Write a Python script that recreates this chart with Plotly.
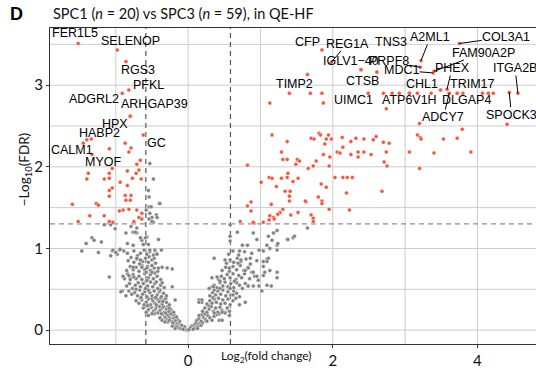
import plotly.graph_objects as go

# ---- data: log2 fold change and -log10(FDR) per protein ----
# non-significant proteins (grey)
grey_lfc = [
    # left arm
    -0.02, -0.04, -0.06, -0.08, -0.10, -0.12, -0.05, -0.09, -0.13, -0.15, -0.17, -0.11, -0.03, -0.07, -0.14, -0.19, -0.21, -0.16, -0.18, -0.22, -0.01,
    -0.12, -0.15, -0.18, -0.20, -0.23, -0.25, -0.27, -0.19, -0.22, -0.30, -0.28, -0.32, -0.35, -0.16, -0.26, -0.33, -0.38, -0.24, -0.29, -0.36,
    -0.20, -0.24, -0.27, -0.30, -0.33, -0.36, -0.39, -0.42, -0.45, -0.28, -0.34, -0.40, -0.48, -0.51, -0.55, -0.31, -0.37, -0.44, -0.58, -0.62, -0.26, -0.47,
    -0.26, -0.30, -0.33, -0.36, -0.40, -0.43, -0.46, -0.49, -0.52, -0.55, -0.58, -0.61, -0.64, -0.68, -0.38, -0.31, -0.44, -0.50, -0.56, -0.72, -0.35, -0.66,
    -0.30, -0.34, -0.37, -0.40, -0.43, -0.47, -0.50, -0.53, -0.57, -0.60, -0.63, -0.67, -0.70, -0.74, -0.78, -0.82, -0.45, -0.55, -0.39, -0.65, -0.86, -0.91,
    -0.33, -0.38, -0.42, -0.46, -0.49, -0.52, -0.56, -0.59, -0.62, -0.66, -0.69, -0.73, -0.77, -0.81, -0.85, -0.44, -0.36, -0.58, -0.72,
    -0.38, -0.43, -0.48, -0.52, -0.55, -0.60, -0.64, -0.68, -0.72, -0.76, -0.80, -0.84, -0.88, -0.46, -0.57, -1.09,
    -0.42, -0.47, -0.52, -0.56, -0.60, -0.64, -0.68, -0.72, -0.76, -0.80, -0.85, -0.58, -0.50, -0.22,
    -0.45, -0.50, -0.55, -0.59, -0.63, -0.67, -0.71, -0.75, -0.79, -0.54, -0.47, -0.83,
    -0.48, -0.53, -0.57, -0.61, -0.66, -0.70, -0.75, -0.44,
    -1.47, -1.41, -1.33, -1.30, -1.20, -1.24, -1.01, -1.05, -0.98, -0.95, -0.89, -0.84, -0.86, -0.79, -0.76, -0.71, -0.71,
    -0.58, -0.54, -0.50, -0.48, -0.40, -0.64, -0.57, -1.16, -1.07, -1.07, -1.04, -1.00, -0.94, -0.84, -0.73, -0.76, -0.66,
    -0.62, -0.59, -0.55, -0.53, -0.54, -0.50, -0.41, -0.46, -0.37, -0.43, -0.93, -0.90, -0.82, -0.80, -0.75, -0.71, -0.66,
    -0.76, -0.64, -0.57, -0.50, -0.41, -0.36, -0.29, -0.22, -0.18, -0.55, -0.50, -0.39, -0.32, -0.21,
    -0.53, -0.48, -0.55, -0.54, -0.51, -0.53, -0.44, -0.43, -0.39,
    # right arm
    0.02, 0.04, 0.06, 0.08, 0.10, 0.12, 0.05, 0.09, 0.14, 0.16, 0.11, 0.03, 0.07, 0.13, 0.18, 0.20, 0.01,
    0.12, 0.15, 0.18, 0.21, 0.24, 0.27, 0.30, 0.19, 0.23, 0.33, 0.15, 0.26, 0.36, 0.40, 0.43,
    0.20, 0.23, 0.26, 0.29, 0.32, 0.35, 0.38, 0.41, 0.44, 0.47, 0.51, 0.28, 0.36, 0.54, 0.57,
    0.26, 0.30, 0.33, 0.36, 0.39, 0.42, 0.45, 0.48, 0.51, 0.55, 0.58, 0.62, 0.34, 0.15, 0.19, 0.66,
    0.30, 0.34, 0.38, 0.41, 0.45, 0.48, 0.52, 0.55, 0.59, 0.63, 0.67, 0.71, 0.36, 0.29, 0.33,
    0.36, 0.40, 0.44, 0.48, 0.51, 0.55, 0.59, 0.63, 0.67, 0.71, 0.75, 0.79, 0.44, 0.83,
    0.42, 0.46, 0.50, 0.54, 0.58, 0.62, 0.66, 0.70, 0.74, 0.78, 0.85, 0.92, 0.97,
    0.47, 0.52, 0.57, 0.62, 0.67, 0.72, 0.77, 0.83, 0.88, 1.04, 1.13,
    0.53, 0.58, 0.63, 0.68, 0.73, 0.80, 0.86, 0.95, 1.09,
    0.56, 0.62, 0.70, 0.78, 0.88, 0.99,
    0.58, 0.58, 0.58, 0.68, 0.75, 0.82, 0.71, 0.90, 0.95, 1.11, 1.23, 1.16, 1.09, 1.23, 1.37, 1.45, 1.47,
    0.98, 1.04, 1.13, 1.23, 1.11, 1.09, 1.04, 0.86, 0.36, 0.51, 0.57, 0.69, 0.73, 0.79, 0.83, 0.90, 0.95,
    1.04, 1.06, 1.23, 1.23, 1.09, 1.15, 1.02, 0.90, 0.98, 0.83, 0.64, 0.58, 0.44, 0.40, 0.33, 0.29, 0.35,
    0.19, 0.15, 0.43, 0.47, 0.57, 0.51, 0.47, 0.71, 0.79, 0.62, 1.65, 1.24, 1.18, 1.38,
]
grey_logfdr = [
    0.01, 0.02, 0.02, 0.03, 0.04, 0.05, 0.04, 0.06, 0.08, 0.07, 0.09, 0.02, 0.00, 0.01, 0.03, 0.06, 0.08, 0.04, 0.02, 0.05, 0.005,
    0.11, 0.13, 0.12, 0.15, 0.11, 0.14, 0.17, 0.18, 0.19, 0.13, 0.10, 0.16, 0.19, 0.16, 0.12, 0.11, 0.14, 0.20, 0.19, 0.12,
    0.22, 0.25, 0.23, 0.26, 0.22, 0.27, 0.24, 0.21, 0.26, 0.29, 0.29, 0.29, 0.23, 0.28, 0.25, 0.21, 0.20, 0.29, 0.22, 0.27, 0.27, 0.20,
    0.31, 0.34, 0.37, 0.32, 0.35, 0.38, 0.33, 0.36, 0.31, 0.38, 0.34, 0.31, 0.37, 0.33, 0.39, 0.39, 0.31, 0.39, 0.30, 0.36, 0.35, 0.39,
    0.42, 0.45, 0.41, 0.47, 0.43, 0.48, 0.42, 0.46, 0.41, 0.47, 0.44, 0.49, 0.42, 0.46, 0.44, 0.48, 0.40, 0.49, 0.49, 0.40, 0.42, 0.48,
    0.52, 0.55, 0.51, 0.57, 0.53, 0.59, 0.54, 0.51, 0.57, 0.53, 0.58, 0.55, 0.51, 0.57, 0.54, 0.59, 0.58, 0.60, 0.50,
    0.62, 0.66, 0.63, 0.68, 0.64, 0.69, 0.62, 0.66, 0.63, 0.68, 0.64, 0.69, 0.63, 0.70, 0.61, 0.65,
    0.72, 0.76, 0.73, 0.78, 0.74, 0.79, 0.72, 0.77, 0.74, 0.78, 0.73, 0.71, 0.79, 0.75,
    0.82, 0.86, 0.83, 0.88, 0.84, 0.81, 0.87, 0.83, 0.89, 0.90, 0.88, 0.85,
    0.92, 0.96, 0.93, 0.98, 0.94, 0.91, 0.97, 0.94,
    0.97, 1.06, 1.13, 1.10, 1.08, 0.95, 1.24, 0.97, 0.93, 0.98, 0.97, 0.94, 1.19, 1.27, 1.20, 1.25, 1.19,
    1.47, 1.51, 1.38, 1.32, 1.55, 1.10, 1.14, 1.29, 1.29, 0.91, 0.98, 0.95, 0.99, 1.06, 1.20, 1.04, 1.13,
    1.05, 1.13, 1.05, 0.98, 1.36, 1.33, 1.11, 0.98, 0.98, 0.93, 0.47, 0.66, 0.67, 0.62, 0.65, 0.88, 0.86,
    0.77, 0.77, 0.76, 0.71, 0.76, 0.77, 0.76, 0.53, 0.37, 0.18, 0.20, 0.15, 0.10, 0.09,
    2.04, 1.85, 1.71, 1.63, 1.51, 1.43, 1.41, 1.38, 1.55,
    0.01, 0.02, 0.02, 0.04, 0.03, 0.06, 0.05, 0.07, 0.05, 0.08, 0.09, 0.03, 0.01, 0.02, 0.06, 0.09, 0.005,
    0.12, 0.14, 0.11, 0.16, 0.13, 0.18, 0.15, 0.19, 0.20, 0.12, 0.18, 0.11, 0.17, 0.19, 0.20,
    0.23, 0.27, 0.22, 0.26, 0.29, 0.23, 0.27, 0.22, 0.28, 0.24, 0.22, 0.30, 0.21, 0.27, 0.23,
    0.32, 0.36, 0.33, 0.38, 0.34, 0.39, 0.32, 0.37, 0.33, 0.38, 0.31, 0.36, 0.40, 0.37, 0.34, 0.39,
    0.42, 0.46, 0.43, 0.48, 0.44, 0.49, 0.42, 0.47, 0.43, 0.48, 0.45, 0.41, 0.49, 0.51, 0.53,
    0.55, 0.52, 0.58, 0.54, 0.59, 0.53, 0.57, 0.52, 0.58, 0.55, 0.51, 0.57, 0.51, 0.54,
    0.62, 0.66, 0.63, 0.68, 0.64, 0.69, 0.62, 0.67, 0.64, 0.69, 0.63, 0.66, 0.61,
    0.73, 0.77, 0.72, 0.78, 0.74, 0.79, 0.73, 0.77, 0.71, 0.78, 0.73,
    0.82, 0.86, 0.83, 0.88, 0.84, 0.87, 0.81, 0.85, 0.87,
    0.93, 0.97, 0.92, 0.96, 0.94, 0.98,
    1.29, 1.15, 1.09, 1.20, 1.04, 1.04, 0.97, 1.19, 1.11, 1.15, 1.22, 1.10, 1.04, 1.04, 1.11, 1.13, 1.15,
    0.98, 0.97, 1.00, 0.98, 0.88, 0.84, 0.84, 0.88, 0.88, 0.86, 0.76, 0.82, 0.86, 0.73, 0.76, 0.71, 0.66,
    0.67, 0.71, 0.71, 0.64, 0.55, 0.54, 0.48, 0.54, 0.54, 0.54, 0.60, 0.51, 0.60, 0.65, 0.64, 0.51, 0.53,
    0.37, 0.34, 0.12, 0.12, 0.18, 0.21, 0.22, 0.31, 0.34, 0.43, 1.25, 1.06, 1.19, 1.11,
]

# significant proteins (red), unlabelled
sig_lfc = [
    -0.87, -1.09, -0.79, -0.82, -0.66, -0.71, -1.05, -1.38, -1.09, -0.84, -0.72, -0.68, -1.40, -1.16, -1.09, -0.77,
    -0.65, -0.94, -0.84, -1.05, -1.09, -1.09, -0.87, -0.79, -0.86, -0.80, -1.60, -1.27, -1.24, -0.82, -0.90, -0.95,
    -0.71, -0.64, -1.36, -1.16, -0.68, -1.52, -1.09, -1.04, -0.75, -0.64, -1.34,
    1.40, 1.69, 1.85, 2.49, 2.70, 2.82, 2.92, 3.06, 3.17, 3.36, 3.49, 3.72, 3.80, 4.07, 4.15, 4.22, 3.61,
    1.13, 1.87, 2.74, 3.20, 3.79, 4.41, 2.39, 2.61,
    1.16, 1.37, 1.70, 1.74, 1.81, 1.83, 1.89, 1.91, 1.94, 1.98, 2.13, 2.14, 2.25, 2.32, 2.43, 2.56, 2.60, 2.70, 2.78,
    3.17, 3.21, 3.22, 3.53, 3.72, 1.29, 1.31, 1.37, 1.51, 1.54, 1.49, 1.77, 1.87, 1.96, 2.06, 2.10, 2.25, 2.35, 2.35,
    2.43, 2.53, 2.74, 3.06, 3.40, 3.91, 2.71, 2.75, 3.20, 1.73, 1.66, 1.95, 0.82, 1.12, 1.16, 1.29, 1.37, 1.45, 1.52,
    1.38, 2.03, 2.14, 2.20, 2.27, 1.01, 1.22, 1.84, 1.91, 1.34, 1.41, 1.80, 2.19, 2.68, 1.40, 1.40, 1.63, 1.85, 1.85,
    0.82, 0.87, 1.15, 0.87, 2.23, 1.27, 1.24, 1.52, 1.42, 1.70, 1.13, 1.18, 1.19, 1.12, 1.73, 1.73, 0.72, 0.91, 1.04,
    0.90, 1.31, 1.95, 1.62,
]
sig_logfdr = [
    2.29, 2.22, 2.23, 2.18, 2.08, 2.03, 1.98, 1.92, 1.92, 1.95, 1.92, 1.96, 1.85, 1.85, 1.86, 1.86,
    1.85, 1.81, 1.77, 1.74, 1.71, 1.64, 1.65, 1.65, 1.59, 1.59, 1.54, 1.55, 1.53, 1.48, 1.47, 1.46,
    1.47, 1.43, 1.40, 1.40, 1.38, 1.33, 1.33, 1.32, 1.33, 1.36, 2.34,
    2.90, 2.90, 2.90, 2.90, 2.90, 2.90, 2.90, 2.90, 2.90, 2.90, 2.94, 2.90, 2.90, 2.90, 2.90, 2.90, 2.90,
    2.78, 2.78, 2.71, 2.53, 2.46, 2.52, 3.19, 3.16,
    2.39, 2.31, 2.35, 2.34, 2.41, 2.39, 2.28, 2.34, 2.39, 2.34, 2.36, 2.24, 2.31, 2.35, 2.34, 2.33, 2.37, 2.30, 2.29,
    2.39, 2.36, 2.34, 2.34, 2.35, 2.18, 2.09, 2.09, 2.09, 2.07, 2.03, 2.07, 2.15, 2.12, 2.18, 2.17, 2.15, 2.12, 2.18,
    2.18, 2.15, 2.18, 2.18, 2.17, 2.18, 2.06, 2.01, 1.98, 2.01, 1.98, 2.01, 2.02, 1.87, 1.86, 1.86, 1.87, 1.82, 1.86,
    1.92, 1.87, 1.87, 1.87, 1.87, 1.81, 1.76, 1.79, 1.75, 1.70, 1.70, 1.63, 1.68, 1.70, 1.64, 1.58, 1.57, 1.58, 1.55,
    1.52, 1.57, 1.54, 1.46, 1.47, 1.44, 1.42, 1.44, 1.41, 1.41, 1.40, 1.38, 1.36, 1.35, 1.37, 1.33, 1.33, 1.31, 1.32,
    1.32, 1.48, 1.48, 1.58,
]

# labelled proteins: point value, label position, whether a leader line is drawn
lab_gene = ["FER1L5", "SELENOP", "RGS3", "PFKL", "ADGRL2", "ARHGAP39", "HPX", "HABP2", "CALM1", "MYOF", "GC",
            "CFP", "REG1A", "TNS3", "A2ML1", "COL3A1", "IGLV1\u221240", "PRPF8", "MDC1", "FAM90A2P", "PHEX",
            "ITGA2B", "TIMP2", "CTSB", "CHL1", "TRIM17", "UIMC1", "ATP6V1H", "DLGAP4", "ADCY7", "SPOCK3"]
lab_lfc = [-1.52, -0.98, -0.86, -0.82, -0.91, -0.80, -0.80, -1.40, -1.45, -1.33, -0.62,
           1.85, 1.98, 2.61, 3.22, 3.75, 2.39, 3.21, 3.39, 3.40, 3.58,
           4.56, 1.65, 2.39, 3.49, 3.72, 1.87, 3.06, 3.61, 3.61, 4.44]
lab_logfdr = [3.51, 3.43, 3.29, 2.94, 2.90, 2.62, 2.62, 2.33, 2.29, 2.15, 2.39,
              3.43, 3.28, 3.16, 3.30, 3.51, 3.19, 3.22, 3.15, 3.17, 2.95,
              2.90, 3.13, 3.19, 2.94, 2.90, 2.78, 2.90, 2.90, 2.90, 2.91]
lab_tx = [-1.56, -0.80, -0.69, -0.55, -1.30, -0.46, -1.01, -1.23, -1.60, -1.18, -0.44,
          1.65, 2.20, 2.81, 3.35, 4.40, 2.25, 2.78, 2.95, 4.09, 3.65,
          4.52, 1.47, 2.41, 3.24, 3.93, 2.28, 3.06, 3.85, 3.53, 4.47]
lab_ty = [3.64, 3.54, 3.18, 3.00, 2.83, 2.77, 2.53, 2.42, 2.20, 2.06, 2.29,
          3.53, 3.51, 3.53, 3.59, 3.59, 3.29, 3.29, 3.18, 3.40, 3.21,
          3.21, 3.02, 3.05, 3.02, 3.02, 2.82, 2.82, 2.82, 2.61, 2.64]
lab_leader = [False, False, False, False, False, False, False, False, False, False, False,
              False, True, False, True, True, False, True, True, True, True,
              True, False, False, False, False, False, False, False, True, True]

fc_cut = 0.585   # log2(1.5)
fdr_cut = 1.301  # -log10(0.05)

x_grid = [-1, 0, 1, 2, 3, 4]
y_grid = [0, 0.5, 1, 1.5, 2, 2.5, 3, 3.5]

RED = "#f2553c"
GREY = "#808080"
GRID = "#cccccc"

x_span = [-1.91, 4.81]
y_span = [-0.17, 3.70]

fig = go.Figure()

# panel grid, as one broken line trace under everything else
gx, gy = [], []
for xv in x_grid:
    gx += [xv, xv, None]
    gy += [y_span[0], y_span[1], None]
for yv in y_grid:
    gx += [x_span[0], x_span[1], None]
    gy += [yv, yv, None]
fig.add_trace(go.Scatter(x=gx, y=gy, mode="lines", hoverinfo="skip",
                         line=dict(color=GRID, width=1)))

# threshold lines
for xv in (-fc_cut, fc_cut):
    fig.add_trace(go.Scatter(x=[xv, xv], y=y_span, mode="lines", hoverinfo="skip",
                             line=dict(color="#555555", width=1.2, dash="5px,4px")))
fig.add_trace(go.Scatter(x=x_span, y=[fdr_cut, fdr_cut], mode="lines", hoverinfo="skip",
                         line=dict(color="#8f8f8f", width=1.2, dash="5px,4px")))

fig.add_trace(go.Scatter(
    x=grey_lfc, y=grey_logfdr, mode="markers", hoverinfo="skip",
    marker=dict(color=GREY, size=4.0, line=dict(color="white", width=0.45)),
))
fig.add_trace(go.Scatter(
    x=sig_lfc + lab_lfc, y=sig_logfdr + lab_logfdr, mode="markers", hoverinfo="skip",
    marker=dict(color=RED, size=4.0, line=dict(color="white", width=0.45)),
))

# gene labels
lab_font = dict(family="Liberation Sans, Arial, sans-serif", size=12.5, color="black")
for g, px, py, tx, ty, ld in zip(lab_gene, lab_lfc, lab_logfdr, lab_tx, lab_ty, lab_leader):
    if ld:
        fig.add_annotation(x=px, y=py, ax=tx, ay=ty, axref="x", ayref="y", text=g,
                           showarrow=True, arrowhead=0, arrowwidth=1, arrowcolor="black",
                           standoff=0, font=lab_font, borderpad=0)
    else:
        fig.add_annotation(x=tx, y=ty, text=g, showarrow=False, font=lab_font, borderpad=0)

# panel letter, title, axis titles
fig.add_annotation(xref="paper", yref="paper", x=-0.086, y=1.045, text="<b>D</b>", showarrow=False,
                   xanchor="left", yanchor="middle",
                   font=dict(family="Liberation Sans, Arial", size=18, color="black"))
fig.add_annotation(xref="paper", yref="paper", x=0.003, y=1.045, showarrow=False,
                   xanchor="left", yanchor="middle",
                   text="SPC1 (<i>n</i> = 20) vs SPC3 (<i>n</i> = 59), in QE-HF",
                   font=dict(family="Lato", size=14.5, color="#111111"))
fig.add_annotation(xref="paper", yref="paper", x=-0.074, y=0.55, showarrow=False, textangle=-90,
                   text="\u2212Log<sub>10</sub>(FDR)",
                   font=dict(family="Lato", size=13.5, color="#111111"))
fig.add_annotation(xref="paper", yref="paper", x=0.446, y=-0.073, showarrow=False,
                   text="Log<sub>2</sub>(fold change)",
                   font=dict(family="Lato", size=12, color="#111111"))

fig.update_layout(
    width=536, height=375,
    margin=dict(l=50, r=0, t=28, b=31),
    paper_bgcolor="white", plot_bgcolor="white",
    showlegend=False,
    xaxis=dict(range=x_span, tickvals=[0, 2, 4], showgrid=False,
               zeroline=False, showline=True, linecolor="#333333", linewidth=1.2, mirror=True,
               ticks="outside", ticklen=3, tickcolor="#333333",
               tickfont=dict(family="Lato", size=15, color="#111111")),
    yaxis=dict(range=y_span, tickvals=[0, 1, 2, 3], showgrid=False,
               zeroline=False, showline=True, linecolor="#333333", linewidth=1.2,
               ticks="outside", ticklen=3, tickcolor="#333333",
               tickfont=dict(family="Lato", size=15, color="#111111")),
)

fig.write_html("out.html")
